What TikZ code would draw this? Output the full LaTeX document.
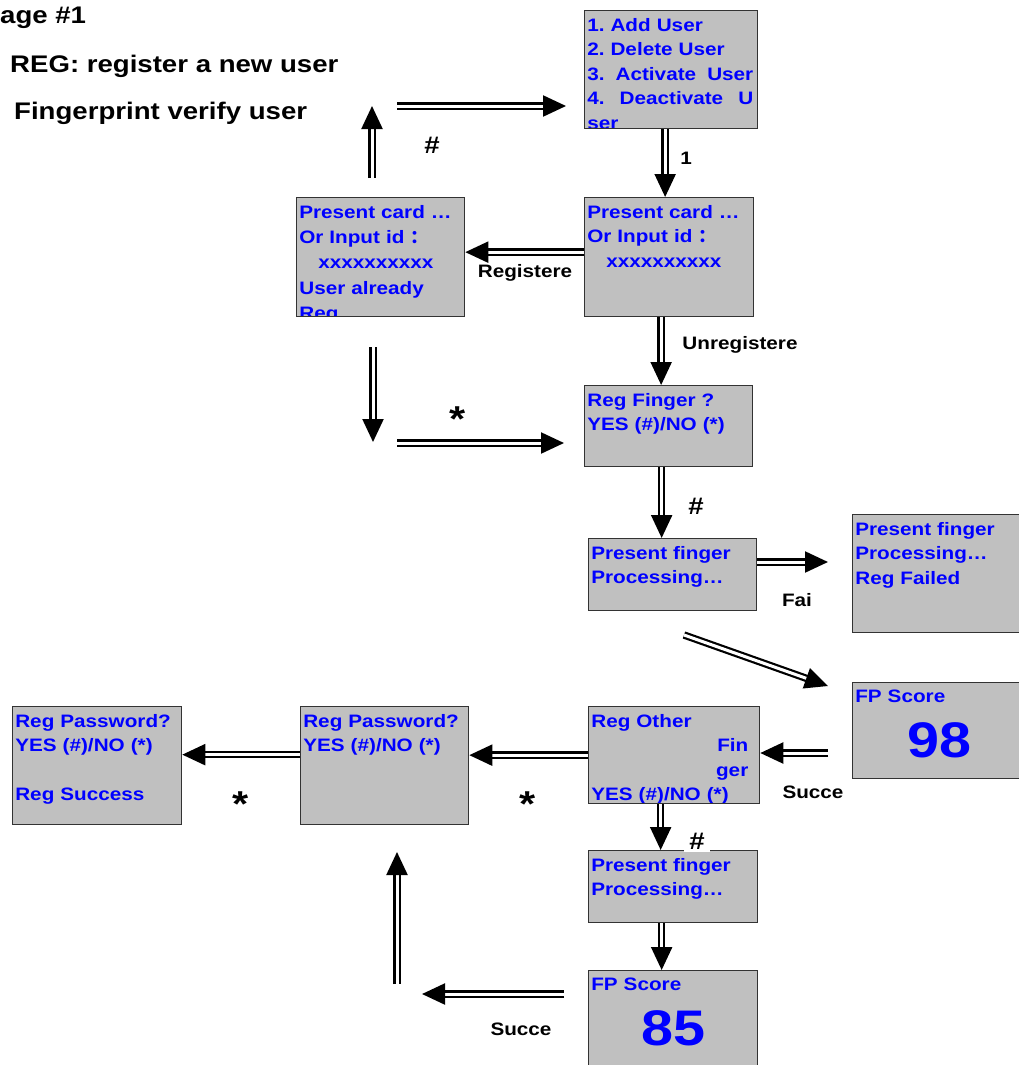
\documentclass[tikz,border=0pt]{standalone}
\usepackage{fontspec}
\setmainfont[FakeStretch=1.15]{Liberation Sans}
\newfontfamily\cjk{Noto Sans CJK SC}
\usepackage{xcolor}
\usepackage{tikz}
\usetikzlibrary{arrows.meta}
\definecolor{scrgray}{RGB}{192,192,192}
\definecolor{scrblue}{RGB}{0,0,255}
\tikzset{
  myarrow/.style={
    draw=black,
    line width=2.2pt,
    double=white,
    double distance=3pt,
    -{Triangle[length=23pt,width=21pt]},
  },
  mytext/.style={
    anchor=north west,
    align=left,
    text width=167pt,
    minimum width=0pt,
    minimum height=0pt,
    inner xsep=2pt,
    inner ysep=7pt,
    text=scrblue,
    font=\fontsize{18}{24.5}\selectfont\bfseries\frenchspacing,
  },
  myscreen/.style={
    draw=black!80,
    fill=scrgray,
    line width=1.3pt,
    anchor=north west,
    inner sep=0pt,
    path picture={\node [mytext] at (path picture bounding box.north west) {#1};},
  },
  myscore/.style={
    text=scrblue,
    inner sep=0pt,
    font=\fontsize{50}{50}\selectfont\bfseries,
  },
  mytitle/.style={
    anchor=west,
    inner sep=0pt,
    font=\fontsize{24}{26}\selectfont\bfseries,
  },
  mylabel/.style={
    inner sep=1pt,
    font=\fontsize{18}{20}\selectfont\bfseries,
  },
  myhash/.style={
    inner sep=1pt,
    font=\fontsize{24}{26}\selectfont\bfseries,
  },
  mystar/.style={
    anchor=north,
    inner sep=0pt,
    font=\fontsize{36}{36}\selectfont\bfseries,
  },
}

\begin{document}
\begin{tikzpicture}[x=1pt, y=-1pt]
    \path [use as bounding box, clip] (0,0) rectangle (1019,1065);

    \node [mytitle] (stage) at (0,18) {age \#1};
    \node [mytitle] (regline) at (10,66) {REG: register a new user};
    \node [mytitle] (fpline) at (14,113) {Fingerprint verify user};

    % screens
    \node [myscreen={1. Add User\\2. Delete User\\\makebox[166pt][l]{3.\hfill Activate\hfill User}\\\makebox[166pt][l]{4.\hfill Deactivate\hfill U}\\ser},
      minimum width=173pt, minimum height=118pt] (menu) at (584,10) {};
    \node [myscreen={Present card …\\Or Input id {\cjk ：}\\\hspace*{19pt}xxxxxxxxxx},
      minimum width=169pt, minimum height=119pt] (cardR) at (584,197) {};
    \node [myscreen={Present card …\\[0.5pt]Or Input id {\cjk ：}\\[1pt]\hspace*{19pt}xxxxxxxxxx\\[1pt]User already\\[1pt]Reg},
      minimum width=168pt, minimum height=119pt] (cardL) at (296,197) {};
    \node [myscreen={Reg Finger ?\\YES (\#)/NO (*)},
      minimum width=168pt, minimum height=81pt] (regfin) at (584,385) {};
    \node [myscreen={Present finger\\Processing…},
      minimum width=168pt, minimum height=72pt] (pres1) at (588,538) {};
    \node [myscreen={Present finger\\Processing…\\Reg Failed},
      minimum width=173pt, minimum height=118pt] (fail) at (852,514) {};
    \node [myscreen={FP Score},
      minimum width=173pt, minimum height=96pt] (fp98) at (852,682) {};
    \node [myscore] (num98) at ([yshift=-10pt]fp98.center) {98};
    \node [myscreen={Reg Other\\\hspace*{\fill}Fin\rule{10pt}{0pt}\\\hspace*{\fill}ger\rule{10pt}{0pt}\\YES (\#)/NO (*)},
      minimum width=171pt, minimum height=97pt] (other) at (588,706) {};
    \node [myscreen={Reg Password?\\YES (\#)/NO (*)},
      minimum width=168pt, minimum height=118pt] (pass2) at (300,706) {};
    \node [myscreen={Reg Password?\\YES (\#)/NO (*)\\[24.5pt]Reg Success},
      minimum width=169pt, minimum height=118pt] (pass1) at (12,706) {};
    \node [myscreen={Present finger\\Processing…},
      minimum width=169pt, minimum height=72pt] (pres2) at (588,850) {};
    \node [myscreen={FP Score},
      minimum width=169pt, minimum height=96pt] (fp85) at (588,970) {};
    \node [myscore] (num85) at ([yshift=-10pt]fp85.center) {85};

    % free arrow ends
    \coordinate (upA) at (372,178);
    \coordinate (upB) at (372,106);
    \coordinate (topA) at (397,106);
    \coordinate (topB) at (566,106);
    \coordinate (dnA) at (373,347);
    \coordinate (dnB) at (373,442);
    \coordinate (stA) at (397,443);
    \coordinate (stB) at (564,443);
    \coordinate (failB) at (828,562);
    \coordinate (dgA) at (684,635);
    \coordinate (dgB) at (828,686);
    \coordinate (scA) at (828,753);
    \coordinate (lfA) at (564,994);
    \coordinate (lfB) at (422,994);
    \coordinate (upC) at (397,984);
    \coordinate (upD) at (397,852);

    % arrows
    \draw [myarrow] (upA) -- (upB);
    \draw [myarrow] (topA) -- (topB);
    \draw [myarrow] ([xshift=-6pt]menu.south) -- ([xshift=-6pt]menu.south |- cardR.north);
    \draw [myarrow] ([yshift=5pt]cardR.west) -- ([yshift=5pt]cardL.east);
    \draw [myarrow] (dnA) -- (dnB);
    \draw [myarrow] (stA) -- (stB);
    \draw [myarrow] ([xshift=-8pt]cardR.south) -- ([xshift=-8pt]cardR.south |- regfin.north);
    \draw [myarrow] ([xshift=-7pt]regfin.south) -- ([xshift=-7pt]regfin.south |- pres1.north);
    \draw [myarrow] (pres1.east |- failB) -- (failB);
    \draw [myarrow] (dgA) -- (dgB);
    \draw [myarrow] (scA) -- (other.east |- scA);
    \draw [myarrow] (other.west) -- (pass2.east |- other.west);
    \draw [myarrow] ([yshift=11pt]pass2.west) -- ([yshift=11pt]pass1.east);
    \draw [myarrow] ([xshift=-13.5pt]other.south) -- ([xshift=-13.5pt]other.south |- pres2.north);
    \draw [myarrow] ([xshift=-11.5pt]pres2.south) -- ([xshift=-11.5pt]pres2.south |- fp85.north);
    \draw [myarrow] (lfA) -- (lfB);
    \draw [myarrow] (upC) -- (upD);

    % labels
    \node [myhash] (hashA) at (432,145) {\#};
    \node [mylabel] (one) at (686,158) {1};
    \node [mylabel] (registered) at (525,273) {Registere};
    \node [mylabel] (unregistered) at (740,345) {Unregistere};
    \node [myhash] (hashB) at (696,506) {\#};
    \node [mylabel] (failed) at (797,600) {Fai};
    \node [mylabel] (succA) at (813,792) {Succe};
    \node [myhash, fill=white, inner xsep=5pt, inner ysep=3pt] (hashC) at (697,841) {\#};
    \node [mylabel] (succB) at (521,1029) {Succe};
    \node [mystar] (starA) at (458,407) {*};
    \node [mystar] (starB) at (528,792) {*};
    \node [mystar] (starC) at (241,792) {*};

  \end{tikzpicture}
\end{document}
